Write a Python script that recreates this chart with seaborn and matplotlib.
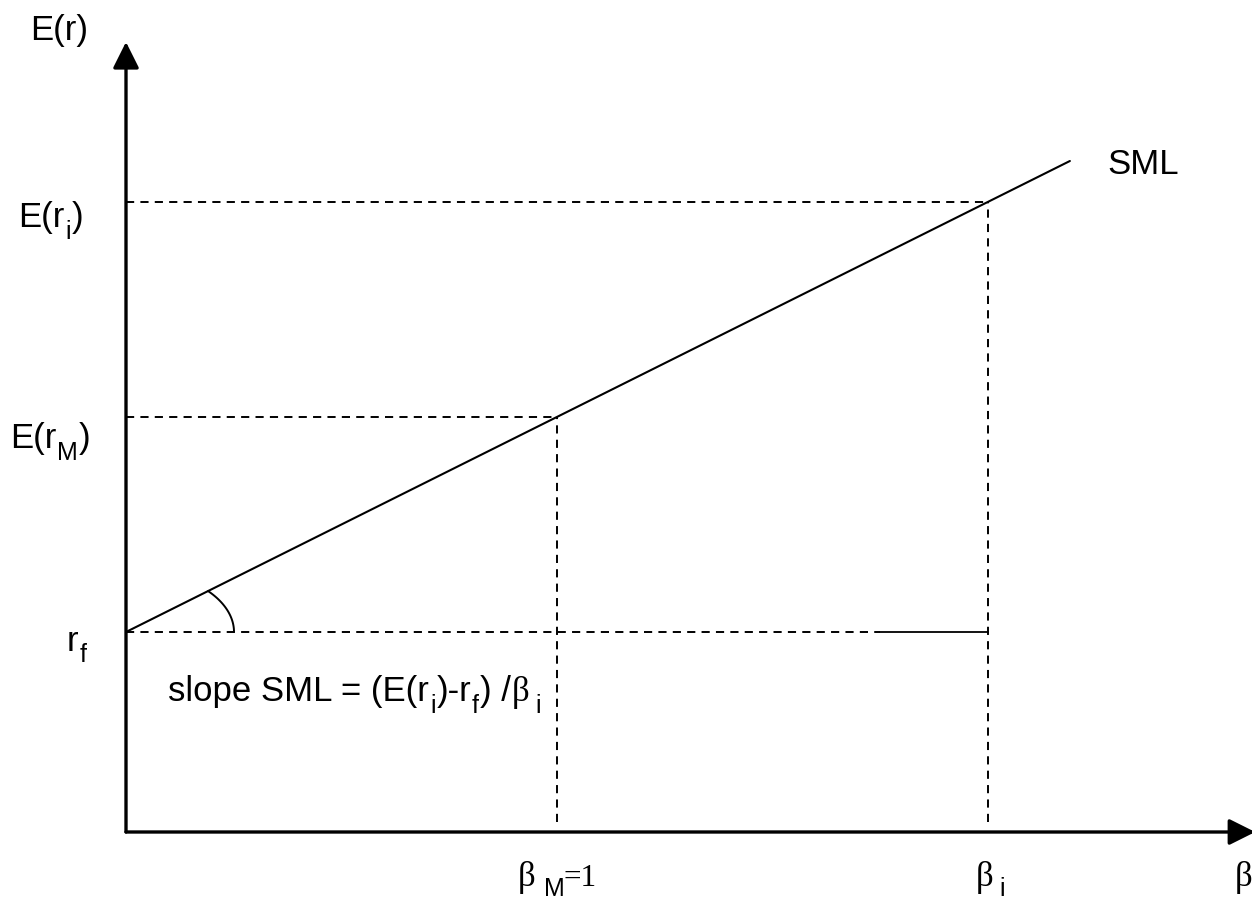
import numpy as np
import matplotlib
matplotlib.use("Agg")
import matplotlib.pyplot as plt
import seaborn as sns

# ---- data ----
point_names = ["rf", "M", "i"]
betas = [0.0, 1.0, 2.0]            # beta of risk-free, market, asset i
returns = [4.0, 8.3, 12.6]          # expected returns r_f, E(r_M), E(r_i)
sml_beta = [0.0, 2.19]              # extent of the SML line
sml_ret = [4.0, 13.42]
run_start = 1.75                    # start of the solid "run" segment on r_f line
axis_tip_x = 2.62
axis_tip_y = 15.8

sns.set_style("white")
plt.rcParams["font.family"] = ["Liberation Sans", "DejaVu Sans"]
plt.rcParams["text.color"] = "black"

W, H, DPI = 1252, 900, 100
PXX, PXY = 431.0, 50.0             # pixels per data unit
OX, OY = 126, 832                  # origin position in pixels

fig = plt.figure(figsize=(W / DPI, H / DPI), dpi=DPI)
ax = fig.add_axes([0, 0, 1, 1])
ax.set_xlim(-OX / PXX, (W - OX) / PXX)
ax.set_ylim(-(H - OY) / PXY, OY / PXY)
ax.axis("off")

rf, erm, eri = returns
b_rf, b_m, b_i = betas

# SML line
sns.lineplot(x=sml_beta, y=sml_ret, ax=ax, color="black", lw=1.5, zorder=3)

dash = dict(color="black", lw=1.4, linestyle=(0, (4.2, 3.2)), zorder=2)
stop = 10 / PXY   # vertical guides stop just above the axis
for b, r in [(b_m, erm), (b_i, eri)]:
    ax.plot([0, b], [r, r], **dash)
    ax.plot([b, b], [stop, r], **dash)
ax.plot([0, run_start], [rf, rf], **dash)
ax.plot([run_start, b_i], [rf, rf], color="black", lw=1.3, zorder=2)

# angle arc at r_f
slope = (erm - rf) / (b_m - b_rf)
rx, ry = 108 / PXX, 63 / PXY
t_end = np.arctan(slope * rx / ry)
t = np.linspace(0, t_end, 60)
ax.plot(rx * np.cos(t), rf + ry * np.sin(t), color="black", lw=1.4, zorder=3)

# axes with arrows
arrow = dict(arrowstyle="-|>,head_length=1.0,head_width=0.5", color="black",
             lw=2.4, shrinkA=0, shrinkB=0, mutation_scale=16)
ax.annotate("", xy=(0, axis_tip_y), xytext=(0, 0), arrowprops=arrow, zorder=5,
            annotation_clip=False)
ax.annotate("", xy=(axis_tip_x, 0), xytext=(0, 0), arrowprops=arrow, zorder=5,
            annotation_clip=False)

FS = 25
SANS, SERIF = "Liberation Sans", "Liberation Serif"
op = dict(textcoords="offset pixels", va="baseline", ha="left", color="black",
          annotation_clip=False)


def label(xy, dx, dy, parts, fs=FS, drop=12):
    """parts: list of (text, size_factor, family, gap_before); factor<0.75 means subscript."""
    prev = None
    for txt, fac, fam, gap in parts:
        size = fs * fac
        yo = dy - drop if fac < 0.75 else dy
        if prev is None:
            prev = ax.annotate(txt, xy=xy, xytext=(dx, yo), fontsize=size, family=fam, **op)
        else:
            prev = ax.annotate(txt, xy=(1, xy[1]), xycoords=(prev, "data"),
                               xytext=(gap, yo), fontsize=size, family=fam, **op)
    return prev


SUB = 0.72
# y labels
label((0, axis_tip_y), -96, 2, [("E(r)", 1, SANS, 0)])
label((0, eri), -108, -25, [("E(r", 1, SANS, 0), ("i", SUB, SANS, 1), (")", 1, SANS, 1)])
label((0, erm), -116, -31, [("E(r", 1, SANS, 0), ("M", SUB, SANS, 1), (")", 1, SANS, 1)])
label((0, rf), -59, -19, [("r", 1, SANS, 0), ("f", SUB, SANS, 1)], drop=11)

# SML label
label((sml_beta[1], sml_ret[1]), 37, -13, [("SML", 1, SANS, 0)])

# slope text
label((0, rf), 42, -69, [("slope SML = (E(r", 1, SANS, 0), ("i", SUB, SANS, 1),
                         (")-r", 1, SANS, 1), ("f", SUB, SANS, 1), (") /", 1, SANS, 1),
                         ("β", 1, SERIF, 1), ("i", SUB, SANS, 6)])

# x labels
label((b_m, 0), -39, -54, [("β", 1, SERIF, 0), ("M", SUB, SANS, 8),
                           ("=1", 0.9, SERIF, -1)], drop=10)
label((b_i, 0), -12, -54, [("β", 1, SERIF, 0), ("i", SUB, SANS, 6)], drop=10)
label((axis_tip_x, 0), -20, -54, [("β", 1, SERIF, 0)])

fig.savefig("out.png", dpi=DPI, facecolor="white")
